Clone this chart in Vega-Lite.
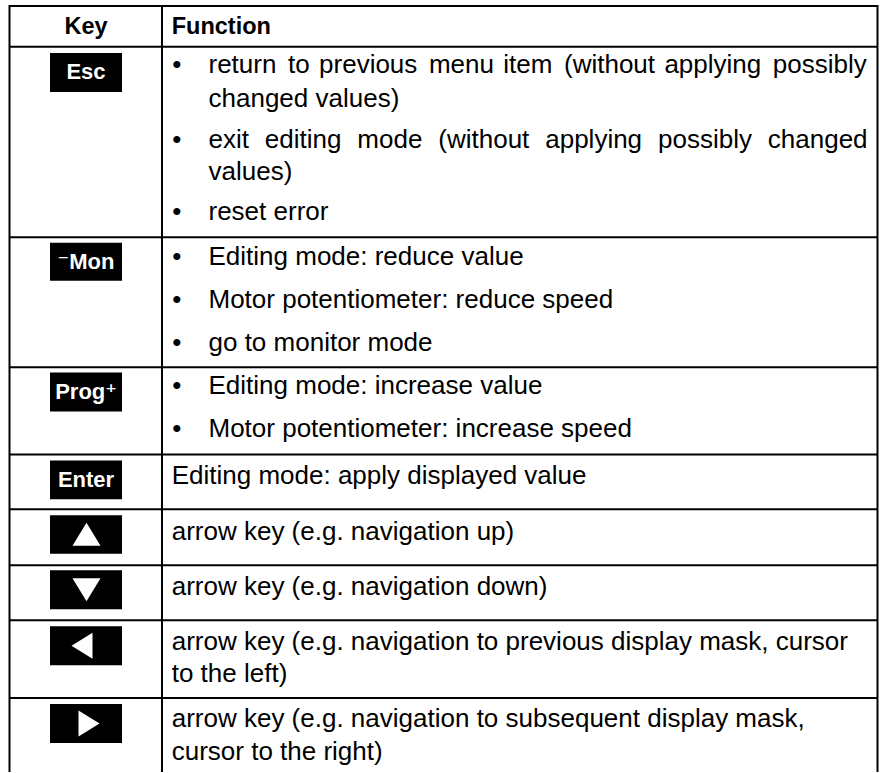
{
  "$schema": "https://vega.github.io/schema/vega-lite/v6.json",
  "width": 880,
  "height": 773,
  "autosize": {"type": "fit", "contains": "padding"},
  "padding": 0,
  "background": "white",
  "config": {"view": {"stroke": null}, "font": "Liberation Sans, Arial, DejaVu Sans, sans-serif"},
  "datasets": {
    "hlines": [{"y": 6}, {"y": 46.7}, {"y": 237.5}, {"y": 367.7}, {"y": 455}, {"y": 510}, {"y": 566}, {"y": 621}, {"y": 699}],
    "vlines": [{"x": 9.5}, {"x": 162}, {"x": 877.5}],
    "keys": [
      {"key": "Esc", "label": "Esc", "top": 53, "bottom": 92, "mid": 72.5},
      {"key": "Mon", "label": "⁻Mon", "top": 243, "bottom": 281, "mid": 262},
      {"key": "Prog", "label": "Prog⁺", "top": 373, "bottom": 412, "mid": 392.5},
      {"key": "Enter", "label": "Enter", "top": 461, "bottom": 500, "mid": 480.5},
      {"key": "Up", "label": "", "top": 516, "bottom": 554.5, "mid": 535},
      {"key": "Down", "label": "", "top": 571, "bottom": 610, "mid": 590.5},
      {"key": "Left", "label": "", "top": 627, "bottom": 666, "mid": 646.5},
      {"key": "Right", "label": "", "top": 705, "bottom": 744, "mid": 724.5}
    ],
    "lines": [
      {"key": "Esc", "bullet": true, "y": 65, "text": "return \u2006to \u200aprevious \u2006menu \u200aitem \u2006(without \u200aapplying \u2006possibly"},
      {"key": "Esc", "bullet": false, "y": 99, "text": "changed values)", "cont": true},
      {"key": "Esc", "bullet": true, "y": 140, "text": "exit \u2005\u200aediting \u2005\u200amode \u2005\u200a(without \u2005\u200aapplying \u2005\u200apossibly \u2005\u200achanged"},
      {"key": "Esc", "bullet": false, "y": 172, "text": "values)", "cont": true},
      {"key": "Esc", "bullet": true, "y": 212, "text": "reset error"},
      {"key": "Mon", "bullet": true, "y": 257, "text": "Editing mode: reduce value"},
      {"key": "Mon", "bullet": true, "y": 300, "text": "Motor potentiometer: reduce speed"},
      {"key": "Mon", "bullet": true, "y": 343, "text": "go to monitor mode"},
      {"key": "Prog", "bullet": true, "y": 387, "text": "Editing mode: increase value"},
      {"key": "Prog", "bullet": true, "y": 430, "text": "Motor potentiometer: increase speed"},
      {"key": "Enter", "bullet": false, "y": 477, "text": "Editing mode: apply displayed value"},
      {"key": "Up", "bullet": false, "y": 533, "text": "arrow key (e.g. navigation up)"},
      {"key": "Down", "bullet": false, "y": 588, "text": "arrow key (e.g. navigation down)"},
      {"key": "Left", "bullet": false, "y": 643, "text": "arrow key (e.g. navigation to previous display mask, cursor"},
      {"key": "Left", "bullet": false, "y": 675, "text": "to the left)"},
      {"key": "Right", "bullet": false, "y": 720, "text": "arrow key (e.g. navigation to subsequent display mask,"},
      {"key": "Right", "bullet": false, "y": 753, "text": "cursor to the right)"}
    ]
  },
  "layer": [
    {
      "data": {"name": "hlines"},
      "mark": {"type": "rule", "strokeWidth": 2, "color": "#000000"},
      "encoding": {
        "y": {"field": "y", "type": "quantitative", "scale": {"domain": [0, 773], "reverse": true, "nice": false, "zero": false}, "axis": null},
        "x": {"datum": 9.5, "type": "quantitative", "scale": {"domain": [0, 880], "nice": false, "zero": false}, "axis": null},
        "x2": {"datum": 877.5}
      }
    },
    {
      "data": {"name": "vlines"},
      "mark": {"type": "rule", "strokeWidth": 2, "color": "#000000"},
      "encoding": {
        "x": {"field": "x", "type": "quantitative", "scale": {"domain": [0, 880], "nice": false, "zero": false}, "axis": null},
        "y": {"datum": 5, "type": "quantitative", "scale": {"domain": [0, 773], "reverse": true, "nice": false, "zero": false}, "axis": null},
        "y2": {"datum": 773}
      }
    },
    {
      "data": {"name": "keys"},
      "mark": {"type": "rect", "color": "#000000"},
      "encoding": {
        "x": {"datum": 50, "type": "quantitative", "scale": {"domain": [0, 880], "nice": false, "zero": false}, "axis": null},
        "x2": {"datum": 122},
        "y": {"field": "top", "type": "quantitative", "scale": {"domain": [0, 773], "reverse": true, "nice": false, "zero": false}, "axis": null},
        "y2": {"field": "bottom"}
      }
    },
    {
      "data": {"name": "keys"},
      "mark": {"type": "text", "color": "#ffffff", "fontWeight": "bold", "fontSize": 22, "align": "center", "baseline": "middle", "font": "Liberation Sans, DejaVu Sans, sans-serif"},
      "encoding": {
        "x": {"datum": 86, "type": "quantitative", "scale": {"domain": [0, 880], "nice": false, "zero": false}, "axis": null},
        "y": {"field": "mid", "type": "quantitative", "scale": {"domain": [0, 773], "reverse": true, "nice": false, "zero": false}, "axis": null},
        "text": {"field": "label"}
      }
    },
    {
      "data": {"name": "keys"},
      "transform": [{"filter": "datum.label == ''"}],
      "mark": {"type": "point", "filled": true, "fill": "#ffffff", "opacity": 1, "strokeWidth": 0, "size": 784},
      "encoding": {
        "x": {"datum": 86.5, "type": "quantitative", "scale": {"domain": [0, 880], "nice": false, "zero": false}, "axis": null},
        "y": {"field": "mid", "type": "quantitative", "scale": {"domain": [0, 773], "reverse": true, "nice": false, "zero": false}, "axis": null},
        "shape": {
          "field": "key",
          "type": "nominal",
          "legend": null,
          "scale": {
            "domain": ["Up", "Down", "Left", "Right"],
            "range": [
              "M-1,0.82L1,0.82L0,-0.82Z",
              "M-1,-0.82L1,-0.82L0,0.82Z",
              "M0.43,-0.93L0.43,0.93L-1.07,0Z",
              "M-0.57,-0.93L-0.57,0.93L0.93,0Z"
            ]
          }
        }
      }
    },
    {
      "data": {"values": [{"label": "Key"}]},
      "mark": {"type": "text", "fontWeight": "bold", "fontSize": 23.5, "align": "center", "baseline": "middle", "color": "#000000"},
      "encoding": {
        "x": {"datum": 86, "type": "quantitative", "scale": {"domain": [0, 880], "nice": false, "zero": false}, "axis": null},
        "y": {"datum": 27, "type": "quantitative", "scale": {"domain": [0, 773], "reverse": true, "nice": false, "zero": false}, "axis": null},
        "text": {"field": "label"}
      }
    },
    {
      "data": {"values": [{"label": "Function"}]},
      "mark": {"type": "text", "fontWeight": "bold", "fontSize": 23.5, "align": "left", "baseline": "middle", "color": "#000000"},
      "encoding": {
        "x": {"datum": 171.7, "type": "quantitative", "scale": {"domain": [0, 880], "nice": false, "zero": false}, "axis": null},
        "y": {"datum": 27, "type": "quantitative", "scale": {"domain": [0, 773], "reverse": true, "nice": false, "zero": false}, "axis": null},
        "text": {"field": "label"}
      }
    },
    {
      "data": {"name": "lines"},
      "transform": [{"filter": "datum.bullet"}],
      "mark": {"type": "text", "fontSize": 26, "align": "center", "baseline": "middle", "color": "#000000"},
      "encoding": {
        "x": {"datum": 176.7, "type": "quantitative", "scale": {"domain": [0, 880], "nice": false, "zero": false}, "axis": null},
        "y": {"field": "y", "type": "quantitative", "scale": {"domain": [0, 773], "reverse": true, "nice": false, "zero": false}, "axis": null},
        "text": {"value": "•"}
      }
    },
    {
      "data": {"name": "lines"},
      "transform": [{"filter": "datum.bullet || datum.cont"}],
      "mark": {"type": "text", "fontSize": 26, "align": "left", "baseline": "middle", "color": "#000000"},
      "encoding": {
        "x": {"datum": 208.5, "type": "quantitative", "scale": {"domain": [0, 880], "nice": false, "zero": false}, "axis": null},
        "y": {"field": "y", "type": "quantitative", "scale": {"domain": [0, 773], "reverse": true, "nice": false, "zero": false}, "axis": null},
        "text": {"field": "text"}
      }
    },
    {
      "data": {"name": "lines"},
      "transform": [{"filter": "!datum.bullet && !datum.cont"}],
      "mark": {"type": "text", "fontSize": 26, "align": "left", "baseline": "middle", "color": "#000000"},
      "encoding": {
        "x": {"datum": 171.7, "type": "quantitative", "scale": {"domain": [0, 880], "nice": false, "zero": false}, "axis": null},
        "y": {"field": "y", "type": "quantitative", "scale": {"domain": [0, 773], "reverse": true, "nice": false, "zero": false}, "axis": null},
        "text": {"field": "text"}
      }
    }
  ]
}
